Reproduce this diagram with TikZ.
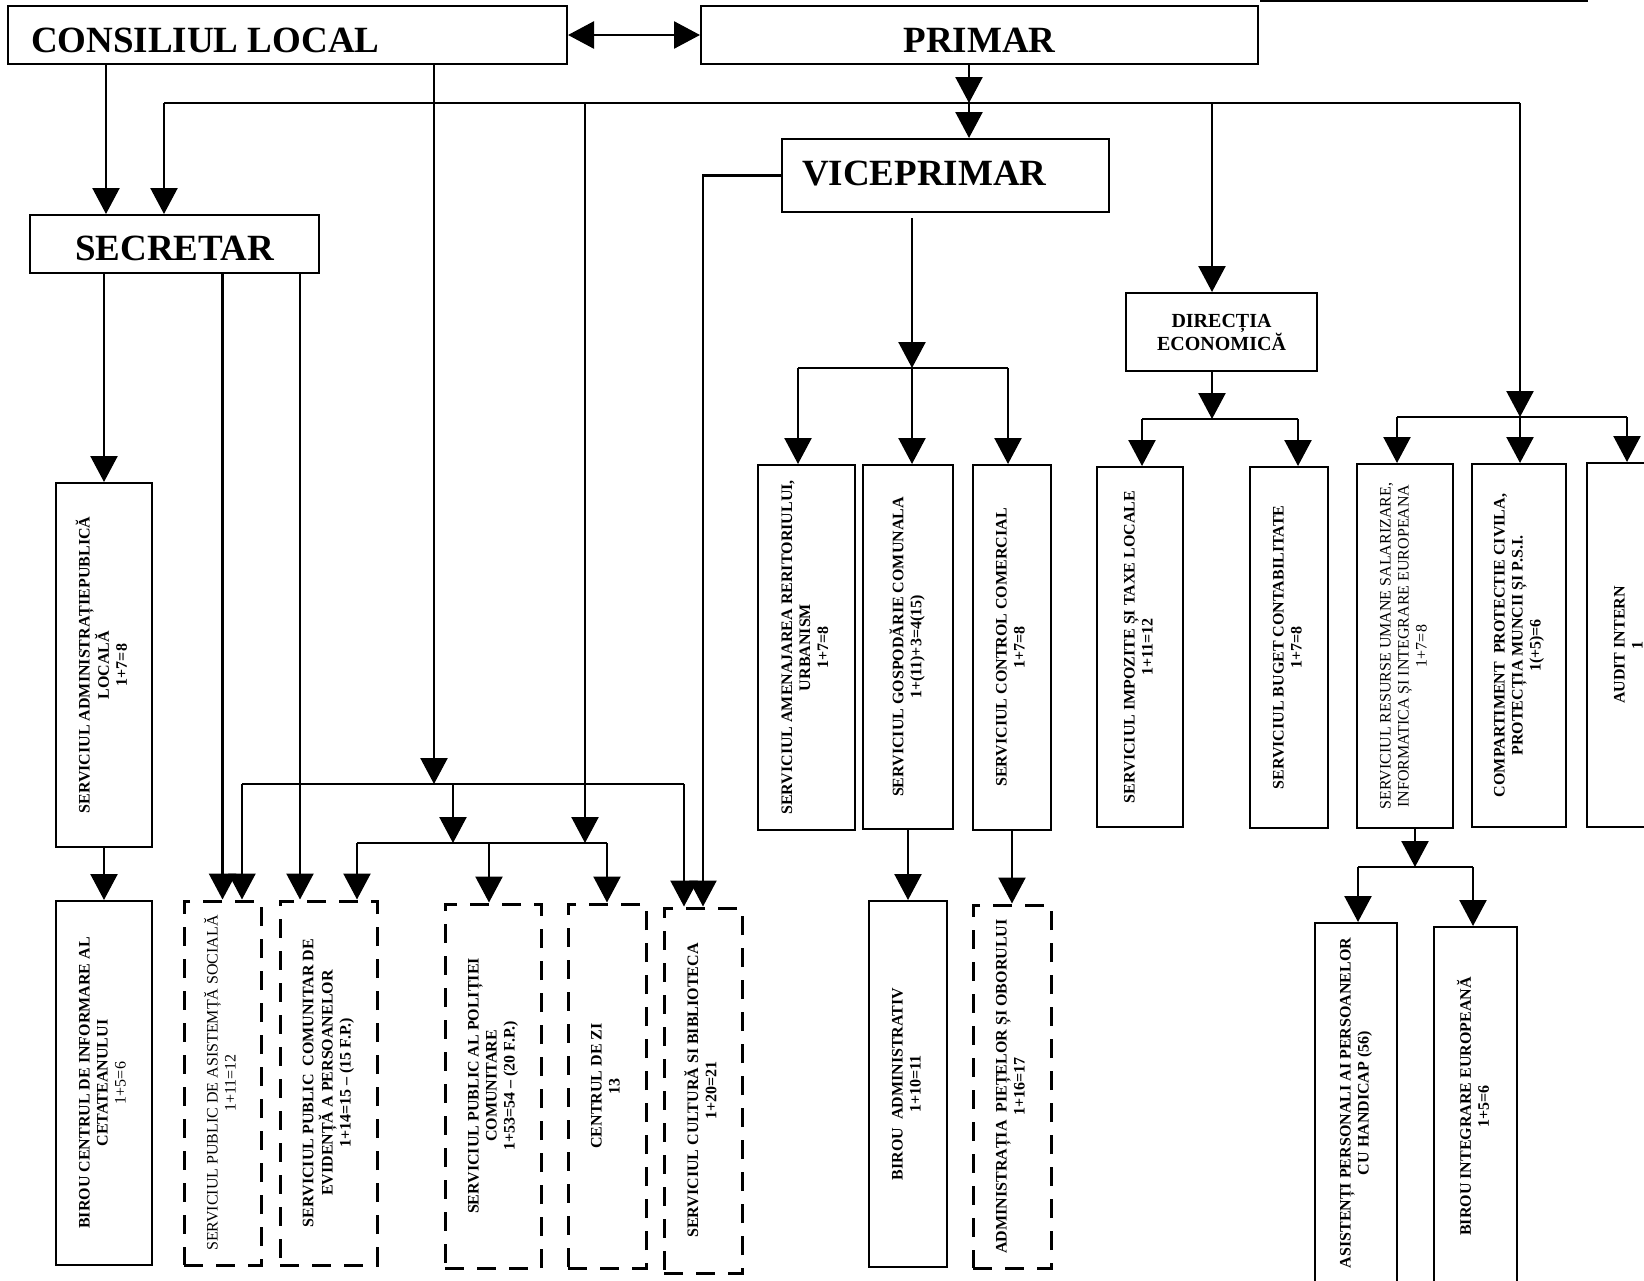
\documentclass[tikz,border=0pt]{standalone}
\usepackage{fontspec}
\setmainfont{Liberation Serif}
\usepackage{graphicx}
\usetikzlibrary{arrows.meta}

\newcommand{\vlab}[1]{\rotatebox{90}{\begin{tabular}{@{}c@{}}#1\end{tabular}}}

\begin{document}
\begin{tikzpicture}[x=1pt, y=-1pt,
        head/.style={draw, line width=2pt, inner sep=0pt, text depth=0pt, font=\fontsize{37}{40}\selectfont\bfseries},
        serv/.style={draw, line width=2pt, inner sep=0pt, font=\fontsize{16}{18}\selectfont\bfseries},
        servd/.style={serv, line width=3pt, dash pattern=on 19pt off 13pt},
        line/.style={line width=2.2pt},
        arr/.style={line width=2.4pt, -{Triangle[length=26pt,width=27pt]}},
        dbl/.style={line width=2.6pt, {Triangle[length=26pt,width=27pt]}-{Triangle[length=26pt,width=27pt]}}]
        \useasboundingbox (0,0) rectangle (1644,1280);
        % conducere
        \node [head, minimum width=559pt, minimum height=58pt, text height=34pt] (cl) at (287.5,35) {\makebox[513pt][l]{CONSILIUL LOCAL}};
        \node [head, minimum width=557pt, minimum height=58pt, text height=34pt] (pr) at (979.5,35) {PRIMAR};
        \node [head, minimum width=289pt, minimum height=58pt, text height=32pt] (sec) at (174.5,244) {SECRETAR};
        \node [head, minimum width=327pt, minimum height=73pt, text height=19pt] (vp) at (945.5,175.5) {\makebox[287pt][l]{VICEPRIMAR}};
        \node [draw, line width=2pt, minimum width=191pt, minimum height=78pt, align=center, font=\fontsize{20}{23}\selectfont\bfseries] (de) at (1221.5,332) {DIRECȚIA\\ECONOMICĂ};
        \draw [line] (1260,1) -- (1588,1);
        % servicii
        \node [serv, minimum width=96pt, minimum height=364pt] (sapl) at (104,665) {\vlab{SERVICIUL ADMINISTRAȚIEPUBLICĂ\\LOCALĂ\\1+7=8}};
        \node [serv, minimum width=96pt, minimum height=364pt] (bcic) at (104,1083) {\vlab{BIROU CENTRUL DE INFORMARE AL\\CETATEANULUI\\\mdseries 1+5=6}};
        \node [servd, minimum width=77pt, minimum height=364pt] (asis) at (222.5,1083) {\vlab{\mdseries SERVICIUL PUBLIC DE ASISTEMȚĂ SOCIALĂ\\\mdseries 1+11=12}};
        \node [servd, minimum width=97pt, minimum height=364pt] (evid) at (328.5,1083) {\vlab{SERVICIUL PUBLIC\ \ COMUNITAR DE\\EVIDENȚĂ A PERSOANELOR\\1+14=15 – (15 F.P.)}};
        \node [servd, minimum width=96pt, minimum height=364pt] (pol) at (493,1086) {\vlab{SERVICIUL PUBLIC AL POLIȚIEI\\COMUNITARE\\1+53=54 – (20 F.P.)}};
        \node [servd, minimum width=78pt, minimum height=364pt] (czi) at (607,1086) {\vlab{CENTRUL DE ZI\\13}};
        \node [servd, minimum width=78pt, minimum height=365pt] (cult) at (703,1090.5) {\vlab{SERVICIUL CULTURĂ SI BIBLIOTECA\\1+20=21}};
        \node [serv, minimum width=97pt, minimum height=365pt] (amen) at (806.5,647.5) {\vlab{SERVICIUL AMENAJAREA RERITORIULUI,\\URBANISM\\1+7=8}};
        \node [serv, minimum width=90pt, minimum height=364pt] (gosp) at (908,647) {\vlab{SERVICIUL GOSPODĂRIE COMUNALA\\1+(11)+3=4(15)}};
        \node [serv, minimum width=78pt, minimum height=365pt] (ctrl) at (1012,647.5) {\vlab{SERVICIUL CONTROL COMERCIAL\\1+7=8}};
        \node [serv, minimum width=86pt, minimum height=360pt] (impo) at (1140,647) {\vlab{SERVICIUL IMPOZITE ȘI TAXE LOCALE\\1+11=12}};
        \node [serv, minimum width=78pt, minimum height=361pt] (buget) at (1289,647.5) {\vlab{SERVICIUL BUGET CONTABILITATE\\1+7=8}};
        \node [serv, minimum width=96pt, minimum height=364pt] (res) at (1405,646) {\vlab{\mdseries SERVICIUL RESURSE UMANE SALARIZARE,\\\mdseries INFORMATICA ȘI INTEGRARE EUROPEANA\\\mdseries 1+7=8}};
        \node [serv, minimum width=94pt, minimum height=363pt] (cpc) at (1519,645.5) {\vlab{COMPARTIMENT\ \ PROTECTIE CIVILA,\\PROTECȚIA MUNCII ȘI P.S.I.\\1(+5)=6}};
        \node [serv, minimum width=86pt, minimum height=364pt] (audit) at (1630,645) {\vlab{AUDIT INTERN\\1}};
        \node [serv, minimum width=78pt, minimum height=366pt] (badm) at (908,1084) {\vlab{BIROU\ \ ADMINISTRATIV\\1+10=11}};
        \node [servd, minimum width=78pt, minimum height=363pt] (piete) at (1012,1086.5) {\vlab{ADMINISTRAȚIA\ \ PIEȚELOR ȘI OBORULUI\\1+16=17}};
        \node [serv, minimum width=82pt, minimum height=360pt] (apers) at (1356,1103) {\vlab{ASISTENȚI PERSONALI AI PERSOANELOR\\CU HANDICAP (56)}};
        \node [serv, minimum width=83pt, minimum height=359pt] (bie) at (1475.5,1106.5) {\vlab{BIROU INTEGRARE EUROPEANĂ\\1+5=6}};
        % puncte pe bare
        \coordinate (mbL) at (164,103);
        \coordinate (mbR) at (1520,103);
        \coordinate (mbP) at (969,103);
        \coordinate (mbS) at (585,103);
        \coordinate (mbE) at (1212,103);
        \coordinate (lbA) at (434,784);
        \coordinate (lbL) at (242,784);
        \coordinate (lbR) at (684,784);
        \coordinate (lbM) at (453,784);
        \coordinate (lcA) at (453,843);
        \coordinate (lcL) at (357,843);
        \coordinate (lcR) at (607,843);
        \coordinate (lcP) at (489,843);
        \coordinate (lcS) at (585,843);
        \coordinate (vbL) at (798,368);
        \coordinate (vbM) at (912,368);
        \coordinate (vbR) at (1008,368);
        \coordinate (ebL) at (1142,419);
        \coordinate (ebM) at (1212,419);
        \coordinate (ebR) at (1298,419);
        \coordinate (rbL) at (1397,417);
        \coordinate (rbM) at (1520,417);
        \coordinate (rbR) at (1627,417);
        \coordinate (hbL) at (1358,867);
        \coordinate (hbM) at (1415,867);
        \coordinate (hbR) at (1473,867);
        % legaturi
        \draw [dbl] (cl.east) -- (pr.west);
        \draw [arr] ([xshift=-68.5pt]sec.north |- cl.south) -- ([xshift=-68.5pt]sec.north);
        \draw [arr] (pr.south -| mbP) -- (mbP);
        \draw [arr] (mbP) -- (mbP |- vp.north);
        \draw [line] (mbL) -- (mbR);
        \draw [arr] (mbL) -- (mbL |- sec.north);
        \draw [arr] (mbR) -- (rbM);
        \draw [arr] (mbE) -- (mbE |- de.north);
        \draw [arr] (mbS) -- (lcS);
        \draw [arr] (cl.south -| lbA) -- (lbA);
        \draw [line] (lbL) -- (lbR);
        \draw [arr] (lbL) -- (lbL |- asis.north);
        \draw [arr] (lbR) -- (lbR |- cult.north);
        \draw [arr] (lbM) -- (lcA);
        \draw [line] (lcL) -- (lcR);
        \draw [arr] (lcL) -- (lcL |- evid.north);
        \draw [arr] (lcP) -- (lcP |- pol.north);
        \draw [arr] (lcR) -- (lcR |- czi.north);
        \draw [arr] (sec.south -| sapl.north) -- (sapl.north);
        \draw [arr] (sec.south -| asis.north) -- (asis.north);
        \draw [arr] ([xshift=-28.5pt]evid.north |- sec.south) -- ([xshift=-28.5pt]evid.north);
        \draw [arr] (sapl.south) -- (bcic.north);
        \draw [arr] (vp.west) -| (cult.north);
        \draw [arr] ([yshift=-5pt]vp.south -| vbM) -- (vbM);
        \draw [line] (vbL) -- (vbR);
        \draw [arr] (vbL) -- (vbL |- amen.north);
        \draw [arr] (vbM) -- (vbM |- gosp.north);
        \draw [arr] (vbR) -- (vbR |- ctrl.north);
        \draw [arr] (gosp.south) -- (badm.north);
        \draw [arr] (ctrl.south) -- (piete.north);
        \draw [arr] (de.south -| ebM) -- (ebM);
        \draw [line] (ebL) -- (ebR);
        \draw [arr] (ebL) -- (ebL |- impo.north);
        \draw [arr] (ebR) -- (ebR |- buget.north);
        \draw [line] (rbL) -- (rbR);
        \draw [arr] (rbL) -- (rbL |- res.north);
        \draw [arr] (rbM) -- (rbM |- cpc.north);
        \draw [arr] (rbR) -- (rbR |- audit.north);
        \draw [arr] (res.south -| hbM) -- (hbM);
        \draw [line] (hbL) -- (hbR);
        \draw [arr] (hbL) -- (hbL |- apers.north);
        \draw [arr] (hbR) -- (hbR |- bie.north);
    \end{tikzpicture}
\end{document}
